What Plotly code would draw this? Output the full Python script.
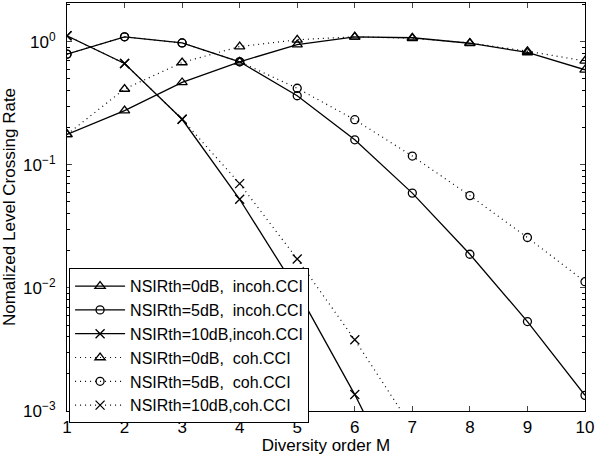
import plotly.graph_objects as go

M = [1, 2, 3, 4, 5, 6, 7, 8, 9, 10]
incoh_0dB = [0.177, 0.276, 0.468, 0.689, 0.95, 1.10, 1.08, 0.975, 0.82, 0.593]
incoh_5dB = [0.795, 1.10, 0.98, 0.689, 0.365, 0.16, 0.059, 0.0188, 0.00533, 0.00134]
incoh_10dB = [1.12, 0.667, 0.235, 0.0526, 0.0095, 0.00136, 0.00016]
coh_0dB = [0.177, 0.414, 0.68, 0.916, 1.04, 1.10, 1.07, 0.98, 0.84, 0.70]
coh_5dB = [0.795, 1.10, 0.98, 0.689, 0.42, 0.233, 0.118, 0.0563, 0.0257, 0.01125]
coh_10dB = [1.12, 0.667, 0.235, 0.0705, 0.0172, 0.00379, 0.00073]

names = ["NSIRth=0dB,  incoh.CCI", "NSIRth=5dB,  incoh.CCI", "NSIRth=10dB,incoh.CCI",
         "NSIRth=0dB,  coh.CCI", "NSIRth=5dB,  coh.CCI", "NSIRth=10dB,coh.CCI"]
series = [incoh_0dB, incoh_5dB, incoh_10dB, coh_0dB, coh_5dB, coh_10dB]
symbols = ["triangle-up-open", "circle-open", "x-thin-open"] * 2
dashes = ["solid"] * 3 + ["1px,4px"] * 3

fig = go.Figure()
for nm, ys, sym, dsh in zip(names, series, symbols, dashes):
    fig.add_trace(go.Scatter(
        x=M[:len(ys)], y=ys, name=nm.replace("  ", "\u00a0\u00a0"),
        mode="lines+markers",
        line=dict(color="black", width=1.3 if dsh == "solid" else 1.2, dash=dsh),
        marker=dict(symbol=sym, size=9 if "circle" not in sym else 8,
                    color="black", line=dict(color="black", width=1.3)),
    ))

minor_vals = [m * 10 ** e for e in range(-3, 1) for m in range(2, 10)]

font = "Liberation Sans, Arial, Helvetica, sans-serif"
fig.update_layout(
    width=596, height=461,
    margin=dict(l=67, r=9, t=2, b=50),
    paper_bgcolor="white", plot_bgcolor="white",
    font=dict(family=font, size=17, color="black"),
    showlegend=True,
    legend=dict(x=0.004, y=0.350, xanchor="left", yanchor="top",
                bgcolor="white", bordercolor="black", borderwidth=1,
                font=dict(family=font, size=16), tracegroupgap=0, itemwidth=50),
    xaxis=dict(range=[1, 10], tickvals=M, ticks="inside", ticklen=5,
               ticklabeloverflow="allow",
               showline=True, linecolor="black", linewidth=1.2, mirror="ticks",
               showgrid=False, zeroline=False,
               title=dict(text="Diversity order M", font=dict(size=17), standoff=3),
               tickfont=dict(size=17)),
    yaxis=dict(type="log", range=[-3, 0.316],
               tickvals=[1e-3, 1e-2, 1e-1, 1],
               ticktext=["10<sup>\u22123</sup>", "10<sup>\u22122</sup>", "10<sup>\u22121</sup>", "10<sup>0</sup>"],
               ticks="inside", ticklen=5, ticklabelstandoff=7,
               minor=dict(ticks="inside", ticklen=3, tickvals=minor_vals, showgrid=False,
                          tickcolor="black"),
               showline=True, linecolor="black", linewidth=1.2, mirror="ticks",
               showgrid=False, zeroline=False,
               title=dict(text="Nomalized Level Crossing Rate", font=dict(size=17), standoff=4),
               tickfont=dict(size=17)),
)
fig.write_html("out.html")
